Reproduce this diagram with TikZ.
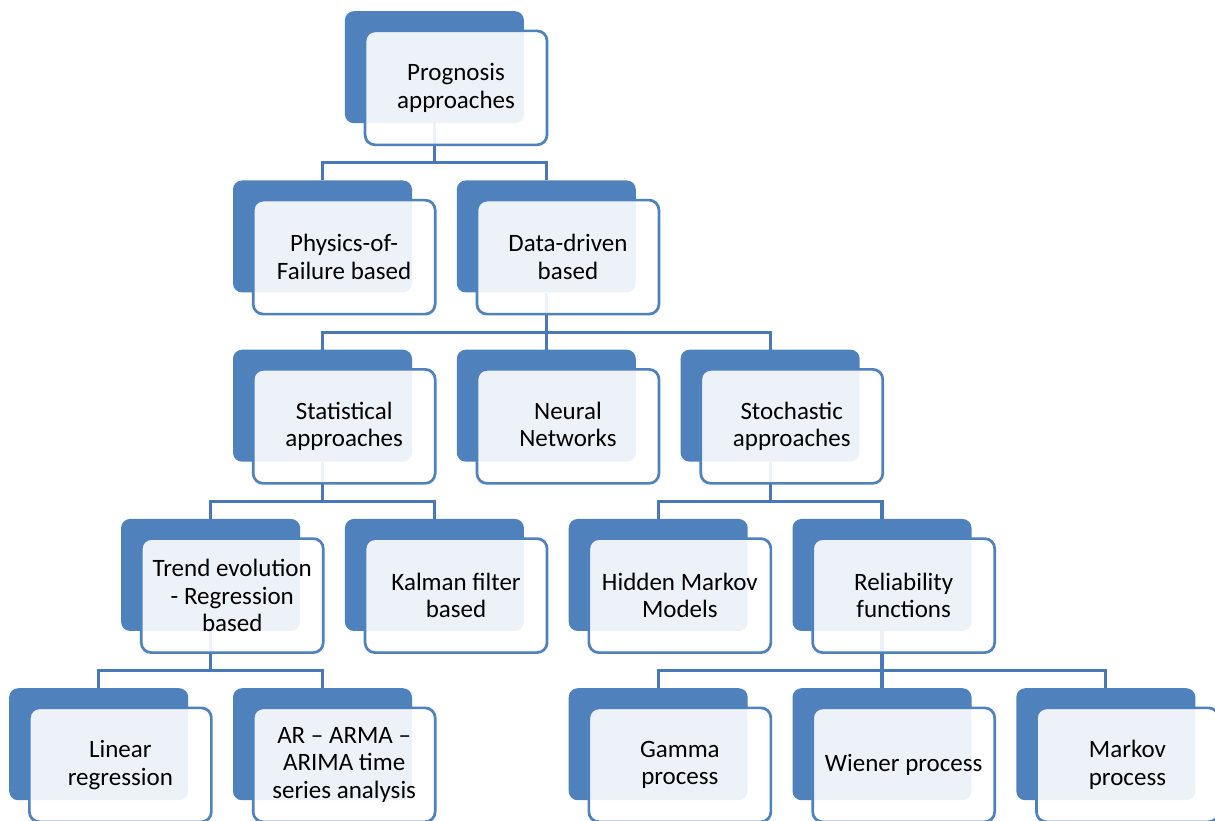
\documentclass[tikz,border=0pt]{standalone}
\usepackage{fontspec}
\setmainfont{Carlito}
\usetikzlibrary{calc}
\definecolor{accent}{RGB}{79,129,189}
\definecolor{wire}{RGB}{72,120,182}
\begin{document}
\begin{tikzpicture}[x=1pt,y=-1pt,
  backbox/.style={fill=accent, rounded corners=9pt, minimum width=179pt,
    minimum height=112pt, inner sep=0pt, anchor=north west},
  frontbox/.style={draw=accent, line width=2.7pt, fill=white, fill opacity=0.9,
    text opacity=1, rounded corners=10pt, minimum width=182pt, minimum height=114pt,
    inner sep=0pt, anchor=north west, align=center,
    font=\fontsize{25}{27.5}\selectfont},
  link/.style={draw=wire, line width=3.1pt}]
\useasboundingbox (0,0) rectangle (1215,820);

% column pitch and row pitch
\def\cx#1{9+111.9*#1}
\def\ry#1{11+169.25*#1}

% back (dark) plates
\node[backbox] (progb)  at ({\cx{3}},{\ry{0}}) {};
\node[backbox] (physb)  at ({\cx{2}},{\ry{1}}) {};
\node[backbox] (datab)  at ({\cx{4}},{\ry{1}}) {};
\node[backbox] (statb)  at ({\cx{2}},{\ry{2}}) {};
\node[backbox] (neurb)  at ({\cx{4}},{\ry{2}}) {};
\node[backbox] (stocb)  at ({\cx{6}},{\ry{2}}) {};
\node[backbox] (trendb) at ({\cx{1}},{\ry{3}}) {};
\node[backbox] (kalmb)  at ({\cx{3}},{\ry{3}}) {};
\node[backbox] (hmmb)   at ({\cx{5}},{\ry{3}}) {};
\node[backbox] (relb)   at ({\cx{7}},{\ry{3}}) {};
\node[backbox] (linb)   at ({\cx{0}},{\ry{4}}) {};
\node[backbox] (arb)    at ({\cx{2}},{\ry{4}}) {};
\node[backbox] (gamb)   at ({\cx{5}},{\ry{4}}) {};
\node[backbox] (wienb)  at ({\cx{7}},{\ry{4}}) {};
\node[backbox] (markb)  at ({\cx{9}},{\ry{4}}) {};

% connectors
\foreach \p/\c in {progb/physb, progb/datab,
                   datab/statb, datab/neurb, datab/stocb,
                   statb/trendb, statb/kalmb,
                   stocb/hmmb, stocb/relb,
                   trendb/linb, trendb/arb,
                   relb/gamb, relb/wienb, relb/markb}
  \draw[link] (\p.south) -- ++(0,39.5) -| (\c.north);

% front (light) cards with labels
\node[frontbox] (prog)  at ($(progb.north west)+(19,18.5)$)  {Prognosis\\approaches};
\node[frontbox] (phys)  at ($(physb.north west)+(19,18.5)$)  {Physics-of-\\Failure based};
\node[frontbox] (data)  at ($(datab.north west)+(19,18.5)$)  {Data-driven\\based};
\node[frontbox] (stat)  at ($(statb.north west)+(19,18.5)$)  {Statistical\\approaches};
\node[frontbox] (neur)  at ($(neurb.north west)+(19,18.5)$)  {Neural\\Networks\vphantom{p}};
\node[frontbox] (stoc)  at ($(stocb.north west)+(19,18.5)$)  {Stochastic\\approaches};
\node[frontbox] (trend) at ($(trendb.north west)+(19,18.5)$) {Trend evolution\\- Regression\\based};
\node[frontbox] (kalm)  at ($(kalmb.north west)+(19,18.5)$)  {Kalman filter\\based};
\node[frontbox] (hmm)   at ($(hmmb.north west)+(19,18.5)$)   {Hidden Markov\\Models};
\node[frontbox] (rel)   at ($(relb.north west)+(19,18.5)$)   {Reliability\\functions};
\node[frontbox] (lin)   at ($(linb.north west)+(19,18.5)$)   {Linear\\regression};
\node[frontbox] (ar)    at ($(arb.north west)+(19,18.5)$)    {AR – ARMA –\\ARIMA time\\series analysis};
\node[frontbox] (gam)   at ($(gamb.north west)+(19,18.5)$)   {Gamma\\process};
\node[frontbox] (wien)  at ($(wienb.north west)+(19,18.5)$)  {Wiener process};
\node[frontbox] (mark)  at ($(markb.north west)+(19,18.5)$)  {Markov\\process};
\end{tikzpicture}
\end{document}
